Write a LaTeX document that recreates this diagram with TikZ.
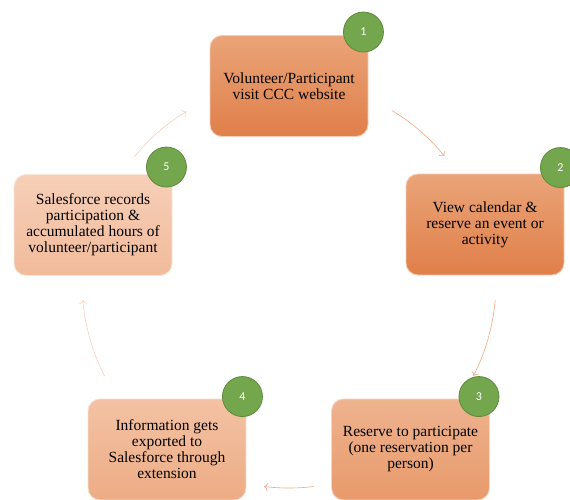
\documentclass[tikz,border=0pt]{standalone}
\usepackage{fontspec}
\setmainfont{Liberation Serif}
\newfontfamily\badgefont{Carlito}
\usetikzlibrary{arrows.meta,calc}
\definecolor{darktop}{HTML}{EAA478}
\definecolor{darkbot}{HTML}{E07F4A}
\definecolor{midtop}{HTML}{EEB38F}
\definecolor{midbot}{HTML}{E89A6B}
\definecolor{palETop}{HTML}{F3C2A4}
\definecolor{paleBot}{HTML}{EDAC85}
\definecolor{faintTop}{HTML}{F6CFB8}
\definecolor{faintBot}{HTML}{F1BB9B}
\definecolor{badgegreen}{HTML}{74A64E}
\definecolor{badgeedge}{HTML}{5C8B3C}
\definecolor{arrowdark}{HTML}{EEAA86}
\definecolor{arrowpale}{HTML}{F5D0BC}
\tikzset{
    stepbox/.style 2 args={rounded corners=12pt, minimum width=158, minimum height=101,
        top color=#1, bottom color=#2, draw=#1!55!white, line width=0.9pt,
        align=center, text=black, inner sep=2pt, font=\fontsize{15.5}{16}\selectfont},
    badge/.style={circle, minimum size=40, inner sep=0pt, fill=badgegreen,
        draw=badgeedge, line width=0.8pt, text=white, font=\badgefont\fontsize{12}{12}\selectfont},
    flow/.style={line width=0.6pt, -{To[length=4pt,width=8pt]}}
}

\begin{document}
\begin{tikzpicture}[x=1pt, y=-1pt]
    \useasboundingbox (0,0) rectangle (570,500);
    \coordinate (hub) at (289,282);
    % the five steps
    \node[stepbox={darktop}{darkbot}] (visit) at (289,86) {Volunteer/Participant\\visit CCC website};
    \node[stepbox={darktop}{darkbot}] (calendar) at (485,224.5) {View calendar \&\\reserve an event or\\activity};
    \node[stepbox={midtop}{midbot}] (reserve) at (410.5,449.5) {Reserve to participate\\(one reservation per\\person)};
    \node[stepbox={palETop}{paleBot}] (export) at (167,449.5) {Information gets\\exported to\\Salesforce through\\extension};
    \node[stepbox={faintTop}{faintBot}] (records) at (93,225) {Salesforce records\\participation \&\\accumulated hours of\\volunteer/participant};
    % numbers
    \node[badge] (n1) at ([shift={(-5,-3)}]visit.north east) {1};
    \node[badge] (n2) at ([shift={(-4,-6)}]calendar.north east) {2};
    \node[badge] (n3) at ([shift={(-11,-2)}]reserve.north east) {3};
    \node[badge] (n4) at ([shift={(-4,-2)}]export.north east) {4};
    \node[badge] (n5) at ([shift={(-6,-7)}]records.north east) {5};
    % arrows round the cycle
    \foreach \a/\b/\r/\c in {-59/-39/200/arrowdark, 5/27/207/arrowdark, 83/97/206/arrowdark,
                            153/175/207/arrowpale, -141/-121/199/arrowpale}
        \draw[flow, \c] (hub) ++(\a:\r) arc[start angle=\a, end angle=\b, radius=\r];
\end{tikzpicture}
\end{document}
